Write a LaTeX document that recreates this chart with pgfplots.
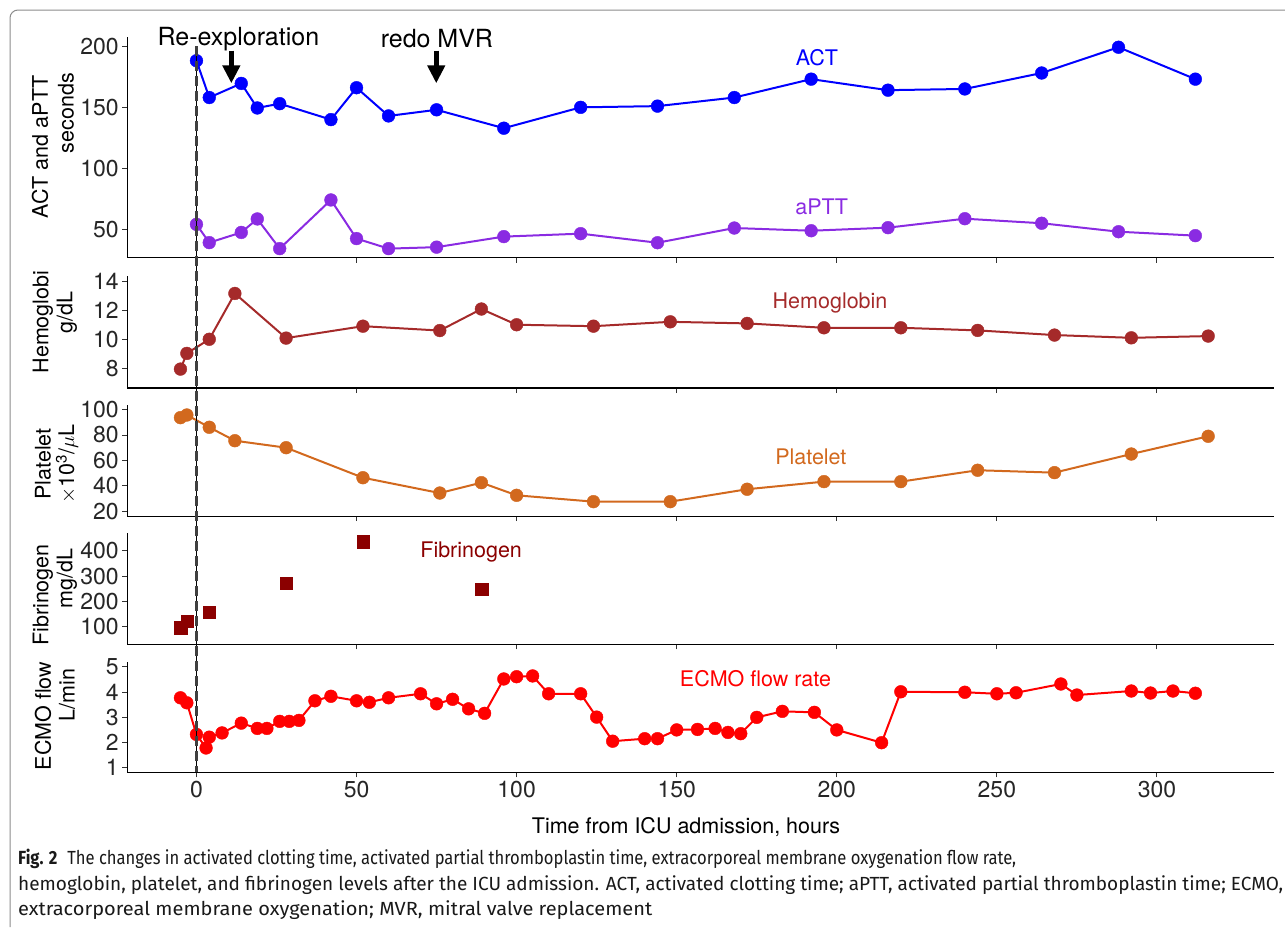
\documentclass[border=0pt]{standalone}
\usepackage{fontspec}
\setmainfont{TeX Gyre Heros}
\newfontfamily\capfont{Fira Sans}
\usepackage{graphicx}
\usepackage{pgfplots}
\pgfplotsset{compat=1.18}
\usetikzlibrary{arrows.meta}

\definecolor{cACT}{RGB}{0,0,255}
\definecolor{cAPTT}{RGB}{138,43,226}
\definecolor{cHB}{RGB}{165,42,42}
\definecolor{cPLT}{RGB}{210,105,30}
\definecolor{cFIB}{RGB}{139,0,0}
\definecolor{cECMO}{RGB}{255,0,0}

\newcommand{\tickfont}{\fontsize{23}{23}\selectfont}
\newcommand{\labfont}{\fontsize{21.5}{21.5}\selectfont}

\pgfplotsset{
  panel/.style={
    scale only axis, width=1146.5pt, anchor=north west,
    xmin=-21.6, xmax=336.5,
    axis x line*=bottom, axis y line*=left,
    axis line style={line width=1.1pt, black, -},
    tick align=outside, major tick length=5pt,
    tick style={line width=1pt, black!80},
    xtick={0,50,100,150,200,250,300}, xticklabels={},
    ticklabel style={font=\tickfont, text=black!85},
    /pgf/number format/assume math mode=true,
    clip=false,
  },
  ser/.style={line width=2pt, color=#1, mark=*, mark size=6.4pt,
    mark options={fill=#1, draw=#1, line width=0.4pt}},
}

\begin{document}
\begin{tikzpicture}[x=1pt,y=1pt]
\path[use as bounding box] (0,0) rectangle (1285,-927);
\draw[black!45, line width=1pt, rounded corners=8pt] (10,-927) -- (10,-10) -- (1285,-10);

% ---------- ACT / aPTT ----------
\begin{axis}[panel, at={(127.3pt,-36.7pt)}, height=221pt,
  ymin=27.4, ymax=207.6, ytick={50,100,150,200}]
\addplot[ser=cACT] coordinates {
(0,188) (4,158) (14,169.5) (19,149.5) (26,153) (42,140) (50,166) (60,143)
(75,148) (96,133) (120,150) (144,151) (168,158) (192,173) (216,164)
(240,165) (264,178) (288,199) (312,173)};
\addplot[ser=cAPTT] coordinates {
(0,54.6) (4,39.7) (14,48) (19,59) (26,34.8) (42,74.5) (50,43) (60,34.8)
(75,36) (96,44.6) (120,47) (144,39.6) (168,51.6) (192,49.4) (216,51.9)
(240,59.2) (264,55.5) (288,48.6) (312,45.4)};
\node[text=cACT, font=\labfont] at (axis cs:193.8,190.8) {ACT};
\node[text=cAPTT, font=\labfont] at (axis cs:195.3,68.5) {aPTT};
\node[font=\fontsize{25}{25}\selectfont] at (axis cs:13.1,206) {Re-exploration};
\node[font=\fontsize{25}{25}\selectfont] at (axis cs:75.1,206) {redo MVR};
\draw[line width=5pt, -{Triangle[width=17pt,length=18pt]}] (axis cs:10.9,196.2) -- (axis cs:10.9,169.6);
\draw[line width=5pt, -{Triangle[width=17pt,length=18pt]}] (axis cs:74.9,196.2) -- (axis cs:74.9,169.6);
\coordinate (vtop) at (axis cs:0,200);
\end{axis}

% ---------- Hemoglobin ----------
\begin{axis}[panel, at={(127.3pt,-276pt)}, height=112pt,
  ymin=6.65, ymax=14.35, ytick={8,10,12,14}]
\addplot[ser=cHB] coordinates {
(-5,7.95) (-3,9.03) (4,10.0) (12,13.15) (28,10.08) (52,10.9) (76,10.6)
(89,12.08) (100,11.0) (124,10.9) (148,11.2) (172,11.09) (196,10.79)
(220,10.79) (244,10.61) (268,10.29) (292,10.1) (316,10.22)};
\node[text=cHB, font=\labfont] at (axis cs:197.9,12.47) {Hemoglobin};
\end{axis}

% ---------- Platelet ----------
\begin{axis}[panel, at={(127.3pt,-404.6pt)}, height=111.5pt,
  ymin=16, ymax=104, ytick={20,40,60,80,100}]
\addplot[ser=cPLT] coordinates {
(-5,93.7) (-3,95.8) (4,86.1) (12,75.5) (28,70) (52,46.3) (76,34.2)
(89,42.4) (100,32.4) (124,27.4) (148,27.4) (172,37.2) (196,43.2)
(220,43.2) (244,52.2) (268,50.3) (292,65) (316,79)};
\node[text=cPLT, font=\labfont] at (axis cs:191.9,62.4) {Platelet};
\end{axis}

% ---------- Fibrinogen ----------
\begin{axis}[panel, at={(127.3pt,-533.3pt)}, height=111pt,
  ymin=30, ymax=470, ytick={100,200,300,400}]
\addplot[only marks, mark=square*, mark size=6.2pt, color=cFIB,
  mark options={fill=cFIB, draw=cFIB, line width=0.2pt}] coordinates {
(-5,97) (-3,122) (4,157) (28,272) (52,437) (89,248)};
\node[text=cFIB, font=\labfont] at (axis cs:85.8,395) {Fibrinogen};
\end{axis}

% ---------- ECMO ----------
\begin{axis}[panel, at={(127.3pt,-661.9pt)}, height=110.4pt,
  ymin=0.8, ymax=5.2, ytick={1,2,3,4,5},
  xticklabels={0,50,100,150,200,250,300}]
\addplot[ser=cECMO] coordinates {
(-5,3.77) (-3,3.57) (0,2.31) (3,1.77) (4,2.2) (8,2.37) (14,2.76) (19,2.55)
(22,2.55) (26,2.83) (29,2.83) (32,2.87) (37,3.65) (42,3.83) (50,3.65)
(54,3.59) (60,3.77) (70,3.93) (75,3.53) (80,3.71) (85,3.33) (90,3.15)
(96,4.52) (100,4.61) (105,4.64) (110,3.93) (120,3.93) (125,3.0) (130,2.04)
(140,2.14) (144,2.14) (150,2.49) (156.5,2.51) (162,2.55) (166,2.39)
(170,2.34) (175,2.99) (183,3.23) (193,3.19) (200,2.49) (214,1.98)
(220,4.01) (240,3.99) (250,3.93) (256,3.97) (270,4.32) (275,3.88)
(292,4.04) (298,3.96) (305,4.04) (312,3.95)};
\node[text=cECMO, font=\labfont] at (axis cs:174.6,4.55) {ECMO flow rate};
\coordinate (vbot) at (axis cs:0,0.8);
\end{axis}

% vertical reference line at ICU admission
\draw[black, line width=0.7pt] (vtop) -- (vbot);
\draw[black!75, line width=2.2pt, dash pattern=on 10pt off 5pt] (vtop) -- (vbot);

% y-axis titles
\node[rotate=90, font=\labfont] at (40,-147) {ACT and aPTT};
\node[rotate=90, font=\labfont] at (66,-113) {seconds};
\node[rotate=90, font=\labfont, anchor=west] at (43,-377) {Hemoglobi};
\node[rotate=90, font=\labfont, anchor=east] at (67,-288) {g/dL};
\node[rotate=90, font=\labfont] at (43,-464) {Platelet};
\node[rotate=90, font=\labfont] at (67,-464) {$\times$10\textsuperscript{3}/$\mu$L};
\node[rotate=90, font=\labfont] at (43,-595) {Fibrinogen};
\node[rotate=90, font=\labfont, anchor=east] at (67,-545) {mg/dL};
\node[rotate=90, font=\labfont] at (43,-716) {ECMO flow};
\node[rotate=90, font=\labfont, anchor=east] at (67,-665) {L/min};

% x-axis title
\node[font=\labfont] at (686,-827) {Time from ICU admission, hours};

% caption
\node[anchor=base west, inner sep=0pt, text=black!90] at (18,-864)
 {\resizebox{998pt}{\height}{\capfont\fontsize{19}{19}\selectfont\textbf{Fig. 2}\hspace{0.6em}The changes in activated clotting time, activated partial thromboplastin time, extracorporeal membrane oxygenation flow rate,}};
\node[anchor=base west, inner sep=0pt, text=black!90] at (18,-890)
 {\resizebox{1265pt}{\height}{\capfont\fontsize{19}{19}\selectfont hemoglobin, platelet, and fibrinogen levels after the ICU admission. ACT, activated clotting time; aPTT, activated partial thromboplastin time; ECMO,}};
\node[anchor=base west, inner sep=0pt, text=black!90] at (18,-915)
 {\resizebox{634pt}{\height}{\capfont\fontsize{19}{19}\selectfont extracorporeal membrane oxygenation; MVR, mitral valve replacement}};
\end{tikzpicture}
\end{document}
